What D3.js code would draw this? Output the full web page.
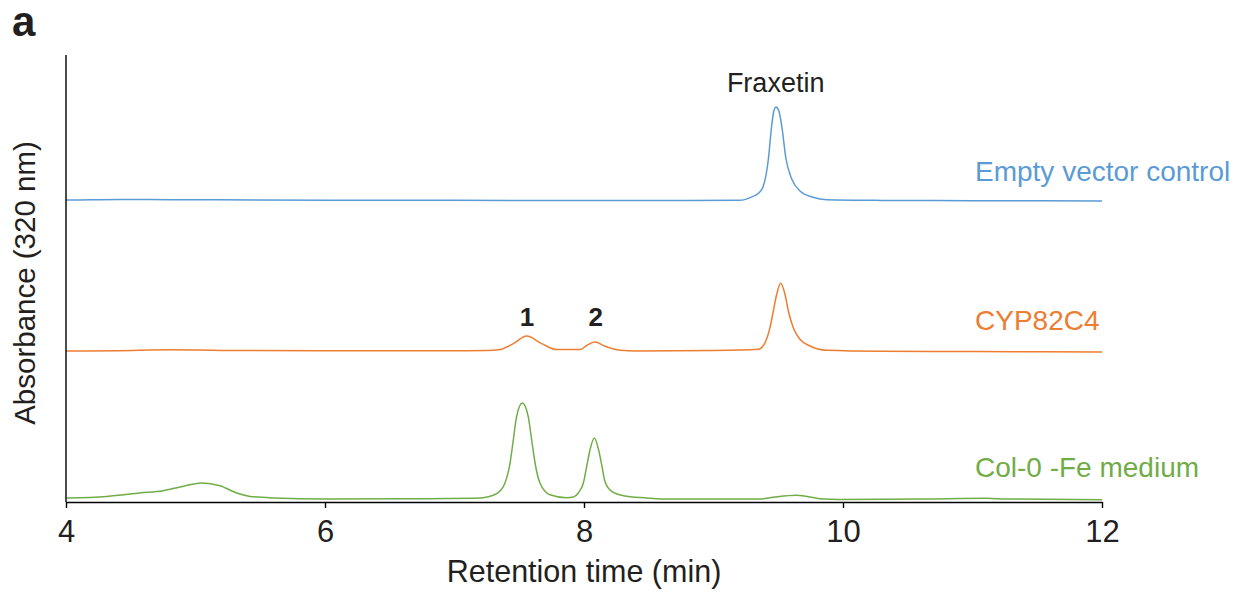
<!DOCTYPE html>
<html>
<head>
<meta charset="utf-8">
<script src="https://cdn.jsdelivr.net/npm/d3@7"></script>
<style>
  body { margin: 0; background: #fff; }
  text { font-family: "Liberation Sans", Arial, sans-serif; fill: #231f20; }
</style>
</head>
<body>
<div id="chart"></div>
<script>
// chromatogram traces, [retention time (min), signal above own baseline]
var emptyVector = [
  [4.0, 0], [4.2, 0.2], [4.45, 0.5], [4.8, 0.3], [5.5, 0], [6.5, -0.3], [7.5, -0.4], [8.5, -0.5],
  [9.2, -0.3], [9.305, 3.7], [9.35, 7], [9.385, 14], [9.423, 40], [9.449, 74], [9.466, 89],
  [9.483, 93], [9.505, 89], [9.527, 74], [9.56, 41], [9.604, 21], [9.668, 9], [9.768, 2.7],
  [9.874, 0.2], [10.3, -0.4], [11, -0.7], [12, -1]
];
var cyp82c4 = [
  [4.0, 0], [4.4, 0.3], [4.8, 1.2], [5.2, 0.6], [6, 0.2], [7, 0.2], [7.25, 0.4], [7.351, 1.4],
  [7.454, 7.4], [7.557, 15], [7.673, 7.4], [7.789, 1.4], [7.969, 1.4], [8.021, 5.7], [8.085, 9],
  [8.162, 4.7], [8.278, 0.7], [8.407, 0], [9.0, 0.5], [9.346, 1.7], [9.398, 8.3], [9.436, 23.3],
  [9.462, 40], [9.488, 56.7], [9.519, 67.7], [9.552, 56.7], [9.578, 40], [9.616, 23.3],
  [9.668, 11.7], [9.745, 5], [9.874, 0.7], [10.3, -0.3], [11, -0.6], [12, -1]
];
var col0Fe = [
  [4.005, 0], [4.314, 1.6], [4.571, 5], [4.751, 7.3], [4.88, 11], [5.048, 15], [5.189, 12.3],
  [5.318, 5], [5.421, 1.6], [5.601, 0], [6.013, -1], [6.6, -0.8], [7.197, 0], [7.249, 1],
  [7.326, 4.3], [7.39, 15], [7.429, 35], [7.454, 58], [7.48, 81.6], [7.524, 95], [7.569, 81.6],
  [7.596, 58], [7.622, 35], [7.66, 15], [7.737, 3.3], [7.866, 0.3], [7.917, 1], [7.956, 5],
  [7.995, 15], [8.021, 31.6], [8.046, 48], [8.08, 60], [8.113, 48], [8.139, 31.6], [8.162, 16.6],
  [8.214, 6.6], [8.304, 2.3], [8.484, 0], [8.587, -1], [9.359, -1], [9.462, 0.7], [9.642, 2.7],
  [9.822, -0.7], [9.977, -1.5], [10.62, -1], [11.11, -0.3], [11.26, -1], [12.0, -1.7]
];

var seriesNames = ["Empty vector control", "CYP82C4", "Col-0 -Fe medium"];
var seriesData = [emptyVector, cyp82c4, col0Fe];
var seriesOffset = [302, 151, 4];   // stacking offsets of each trace
var seriesColor = ["#5b9bd5", "#ed7d31", "#70ad47"];
var xTicks = [4, 6, 8, 10, 12];
var peakLabels = [["Fraxetin", 9.48, 0], ["1", 7.56, 1], ["2", 8.09, 1]];

var W = 1235, H = 594;
var x = d3.scaleLinear().domain([4, 12]).range([66, 1102]);
var y = d3.scaleLinear().domain([0, 447]).range([502, 55]);

var svg = d3.select("#chart").append("svg")
    .attr("width", W)
    .attr("height", H);

// panel letter
svg.append("text")
    .attr("x", 12).attr("y", 36)
    .style("font-size", "42px").style("font-weight", "bold")
    .text("a");

// traces
var line = d3.line()
    .x(function(d) { return x(d[0]); })
    .y(function(d) { return y(d[1] + d[2]); })
    .curve(d3.curveMonotoneX);

seriesData.forEach(function(s, i) {
    var pts = s.map(function(d) { return [d[0], d[1], seriesOffset[i]]; });
    svg.append("path")
        .attr("d", line(pts))
        .attr("fill", "none")
        .attr("stroke", seriesColor[i])
        .attr("stroke-width", 1.5);
});

// series labels
var labelY = [181, 330, 477];
seriesNames.forEach(function(n, i) {
    svg.append("text")
        .attr("x", 975).attr("y", labelY[i])
        .style("font-size", "28px")
        .style("fill", seriesColor[i])
        .text(n);
});

// peak labels
var peakY = [92, 326, 326];
peakLabels.forEach(function(p, i) {
    svg.append("text")
        .attr("x", x(p[1])).attr("y", peakY[i])
        .attr("text-anchor", "middle")
        .style("font-size", i > 0 ? "26px" : "27px")
        .style("font-weight", i > 0 ? "bold" : "normal")
        .text(p[0]);
});

// Add the X Axis
var xAxis = svg.append("g")
    .attr("transform", "translate(0," + y(0) + ")")
    .call(d3.axisBottom(x).tickValues(xTicks).tickSize(6).tickSizeOuter(0));
xAxis.select(".domain").attr("stroke", "#000").attr("stroke-width", 1.4);
xAxis.selectAll(".tick line").attr("stroke", "#000").attr("stroke-width", 1.4);
xAxis.selectAll(".tick text")
    .attr("y", 40).attr("dy", 0)
    .style("font-size", "31px")
    .style("font-family", "'Liberation Sans', Arial, sans-serif")
    .attr("fill", "#231f20");

// Add the Y Axis (line only)
svg.append("line")
    .attr("x1", x(4)).attr("x2", x(4))
    .attr("y1", y.range()[0]).attr("y2", y.range()[1])
    .attr("stroke", "#000").attr("stroke-width", 1.4);

// axis titles
svg.append("text")
    .attr("x", 584).attr("y", 582)
    .attr("text-anchor", "middle")
    .style("font-size", "30.5px")
    .text("Retention time (min)");

svg.append("text")
    .attr("transform", "translate(35,283) rotate(-90)")
    .attr("text-anchor", "middle")
    .style("font-size", "29.5px")
    .text("Absorbance (320 nm)");
</script>
</body>
</html>
